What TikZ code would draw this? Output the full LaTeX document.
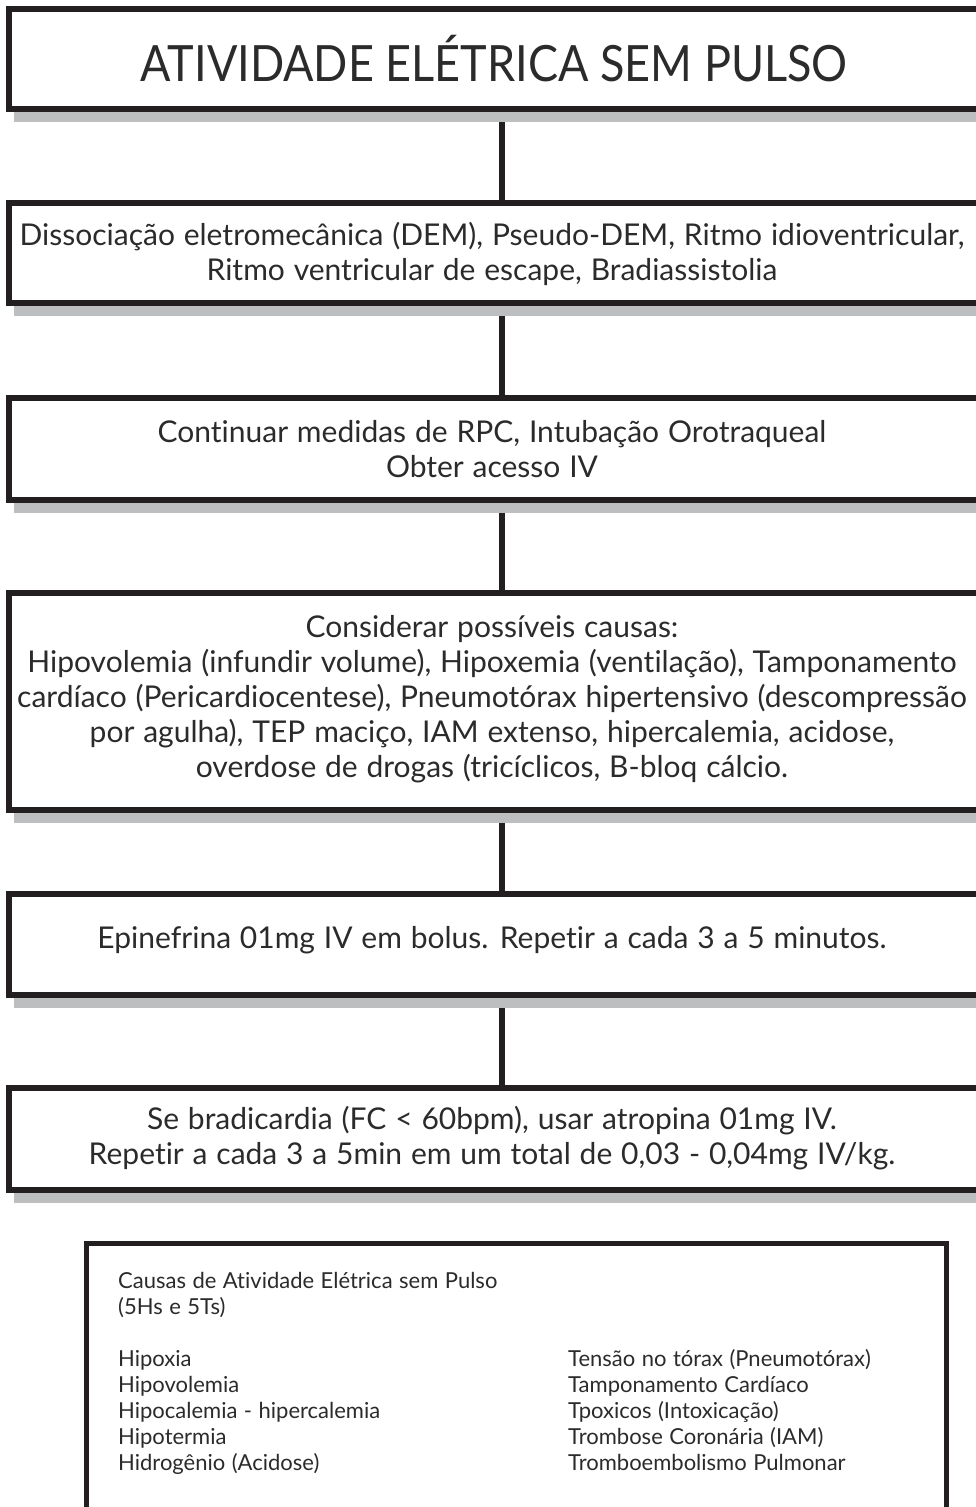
\documentclass[tikz,border=0pt]{standalone}
\usepackage{fontspec}
\setmainfont{Lato}[Ligatures=NoCommon, WordSpace=1.15]
\newfontfamily\headfont{Lato}[FakeStretch=0.9, Ligatures=NoCommon]
\usetikzlibrary{shadows,backgrounds}
\definecolor{ink}{HTML}{231F20}
\definecolor{shade}{HTML}{BCBEC0}
\definecolor{txt}{HTML}{2B2B2B}
\tikzset{
  stage/.style={draw=ink, line width=6pt, fill=white, minimum width=986pt, inner sep=0pt,
    drop shadow={shadow xshift=5pt, shadow yshift=-13pt, fill=shade, opacity=1}},
  stagetext/.style={text=txt, align=center, inner sep=0pt, font=\fontsize{30}{35}\selectfont},
  titletext/.style={text=txt, inner sep=0pt, font=\headfont\fontsize{50}{52}\selectfont},
  link/.style={draw=ink, line width=6pt},
  legend/.style={draw=ink, line width=5pt, fill=white, inner sep=0pt, minimum width=860pt, minimum height=287pt},
  legendtext/.style={text=txt, align=left, inner sep=0pt, anchor=base west, font=\fontsize{22}{25.8}\selectfont},
}
\begin{document}
\begin{tikzpicture}[x=1pt,y=-1pt]
\useasboundingbox (0,0) rectangle (976,1507);
\clip (0,0) rectangle (976,1507);

% flowchart stages
\node[stage, minimum height=100.3pt] (b1) at (502,58.85) {};
\node[stage, minimum height=100pt]    (b2) at (502,253) {};
\node[stage, minimum height=102pt]    (b3) at (502,449) {};
\node[stage, minimum height=217pt]    (b4) at (502,701.5) {};
\node[stage, minimum height=101pt]    (b5) at (502,944.5) {};
\node[stage, minimum height=102pt]    (b6) at (502,1139) {};

% stage texts
\node[titletext]  (t1) at (494,59) {ATIVIDADE ELÉTRICA SEM PULSO};
\node[stagetext]  (t2) at (492,253.5) {Dissociação eletromecânica (DEM), Pseudo-DEM, Ritmo idioventricular,\\Ritmo ventricular de escape, Bradiassistolia};
\node[stagetext]  (t3) at (492,449.5) {Continuar medidas de RPC, Intubação Orotraqueal\\Obter acesso IV};
\node[stagetext]  (t4) at (492,699.5) {Considerar possíveis causas:\\Hipovolemia (infundir volume), Hipoxemia (ventilação), Tamponamento\\cardíaco (Pericardiocentese), Pneumotórax hipertensivo (descompressão\\por agulha), TEP maciço, IAM extenso, hipercalemia, acidose,\\overdose de drogas (tricíclicos, B-bloq cálcio.};
\node[stagetext]  (t5) at (492,940) {Epinefrina 01mg IV em bolus. Repetir a cada 3 a 5 minutos.};
\node[stagetext]  (t6) at (492,1138.5) {Se bradicardia (FC < 60bpm), usar atropina 01mg IV.\\Repetir a cada 3 a 5min em um total de 0,03 - 0,04mg IV/kg.};

% connectors run behind the boxes and their shadows
\begin{pgfonlayer}{background}
\draw[link] (b1.south) -- (b2.north);
\draw[link] (b2.south) -- (b3.north);
\draw[link] (b3.south) -- (b4.north);
\draw[link] (b4.south) -- (b5.north);
\draw[link] (b5.south) -- (b6.north);
\end{pgfonlayer}

% legend of causes (base anchor sits on the last line)
\node[legend] (lg) at (516,1386.5) {};
\node[legendtext] (lh) at (118,1314) {Causas de Atividade Elétrica sem Pulso\\(5Hs e 5Ts)};
\node[legendtext] (lh5) at (118,1470) {Hipoxia\\Hipovolemia\\Hipocalemia - hipercalemia\\Hipotermia\\Hidrogênio (Acidose)};
\node[legendtext] (lt5) at (568,1470) {Tensão no tórax (Pneumotórax)\\Tamponamento Cardíaco\\Tpoxicos (Intoxicação)\\Trombose Coronária (IAM)\\Tromboembolismo Pulmonar};
\end{tikzpicture}
\end{document}
